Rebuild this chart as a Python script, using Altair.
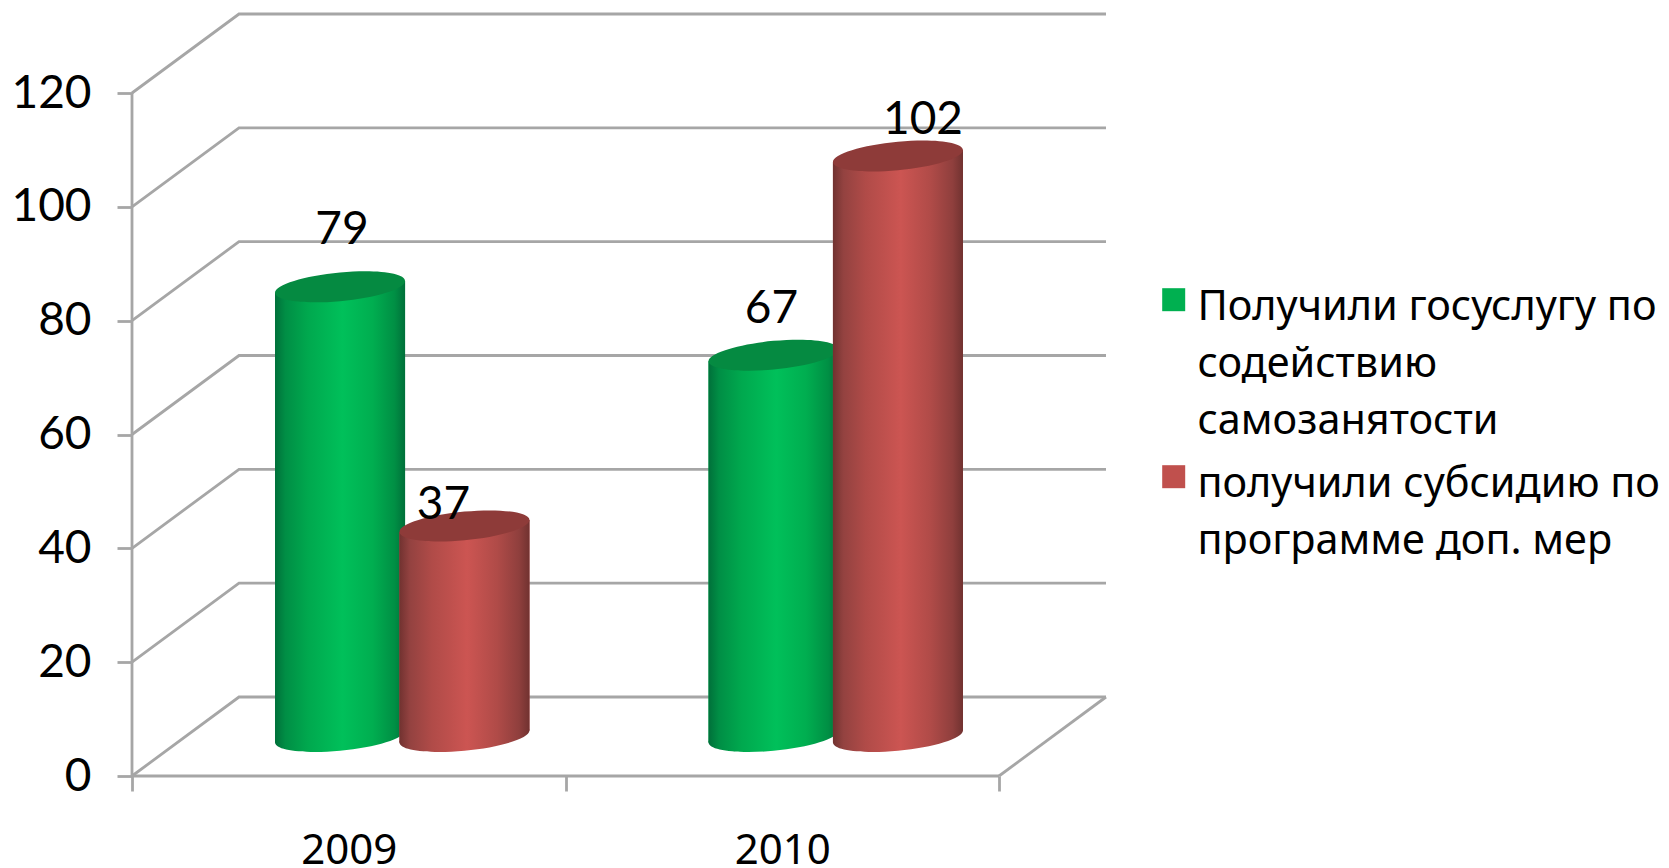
import altair as alt
import pandas as pd

years = ["2009", "2010"]
series = ["Получили госуслугу по\nсодействию\nсамозанятости",
          "получили субсидию по\nпрограмме доп. мер"]
green_values = [79, 67]
red_values = [37, 102]
levels = [0, 20, 40, 60, 80, 100, 120]
swatches = ["#00B050", "#C0504D"]

# 3-D projection of the chart box, in scale units
DX, DY = 0.2468, 13.88
YMAX = 120 + DY
XMAX = 2 + DX
BAR_OFF, BAR_HALF = 0.1435, 0.15
TILT = 1.05
GRID = "#A6A6A6"
FONT_NUM = "Lato"
FONT_TXT = "Noto Sans"


def cap_path(a=1.0, k=0.092, b=0.22):
    c = 0.5523
    def P(x, y):
        return f"{a*x:.4f},{-k*x + b*y:.4f}"
    return (f"M{P(1,0)}C{P(1,c)} {P(c,1)} {P(0,1)}C{P(-c,1)} {P(-1,c)} {P(-1,0)}"
            f"C{P(-1,-c)} {P(-c,-1)} {P(0,-1)}C{P(c,-1)} {P(1,-c)} {P(1,0)}Z")


def grad(stops):
    return alt.Gradient(gradient="linear", x1=0, x2=1, y1=0, y2=0,
                        stops=[alt.GradientStop(offset=o, color=c) for o, c in stops])


G_GREEN = grad([(0, "#00703A"), (0.08, "#008E45"), (0.25, "#00A84E"), (0.52, "#00C05A"),
                (0.75, "#00AE50"), (0.92, "#008F44"), (1, "#00703A")])
G_RED = grad([(0, "#713230"), (0.08, "#934240"), (0.25, "#B04B48"), (0.52, "#CC5552"),
              (0.75, "#B04B48"), (0.92, "#8F3F3D"), (1, "#713230")])

x_enc = alt.X("x:Q", scale=alt.Scale(domain=[0, XMAX], nice=False, zero=False),
              axis=alt.Axis(values=[0, 1, 2], title=None, domain=False, grid=False,
                            tickSize=15, tickWidth=2.8, tickColor=GRID,
                            labelExpr="['2009','2010',''][datum.value]",
                            labelOffset=216.75, labelPadding=39, labelFont=FONT_TXT,
                            labelFontSize=42, labelColor="#000000", labelOverlap=False,
                            labelFlush=False))
y_enc = alt.Y("y:Q", scale=alt.Scale(domain=[0, YMAX], nice=False, zero=False),
              axis=alt.Axis(values=levels, title=None, domain=False, grid=False,
                            tickSize=15, tickWidth=2.8, tickColor=GRID,
                            labelPadding=26, labelFont=FONT_NUM, labelFontSize=46,
                            labelColor="#000000", labelOverlap=False, labelFlush=False))

rows = []
for v in levels:
    rows += [dict(x=0, y=v, k=f"g{v}", o=0),
             dict(x=DX, y=v + DY, k=f"g{v}", o=1),
             dict(x=XMAX, y=v + DY, k=f"g{v}", o=2)]
rows += [dict(x=0, y=0, k="left", o=0), dict(x=0, y=120, k="left", o=1),
         dict(x=0, y=0, k="front", o=0), dict(x=2, y=0, k="front", o=1),
         dict(x=2, y=0, k="right", o=0), dict(x=XMAX, y=DY, k="right", o=1)]
grid_df = pd.DataFrame(rows)
grid = alt.Chart(grid_df).mark_line(color=GRID, strokeWidth=2.8).encode(
    x=x_enc, y=y_enc, detail="k:N", order="o:Q")

layers = [grid]
base_y = DY / 2
SWATCH = "M-1,0.13H1V2.13H-1Z"   # square hanging beside the first line of its label


def cyl(values, sign, name, gradient, cap):
    centers = [i + 0.5 + DX / 2 + sign * BAR_OFF for i in range(len(years))]
    df = pd.DataFrame({"x": centers, "v": values, "s": name})
    df["y"] = base_y
    df["top"] = df.v + base_y
    wall_rows = []
    for yr, c_x, v in zip(years, centers, values):
        wall_rows.append(dict(xw=c_x - BAR_HALF, yb=base_y - TILT, yt=v + base_y - TILT, yr=yr, s=name))
        wall_rows.append(dict(xw=c_x + BAR_HALF, yb=base_y + TILT, yt=v + base_y + TILT, yr=yr, s=name))
    wall = pd.DataFrame(wall_rows)
    c = alt.Chart(df)
    solid = alt.Chart(wall).mark_area(line=False, strokeWidth=0).encode(
        x=alt.X("xw:Q"), y=alt.Y("yb:Q"), y2="yt:Q", detail="yr:N",
        color=alt.Color("s:N", scale=alt.Scale(domain=series, range=swatches),
                        legend=alt.Legend(title=None, orient="none", legendX=1021, legendY=252,
                                          symbolType=SWATCH, symbolSize=529, symbolStrokeWidth=0,
                                          labelFont=FONT_TXT, labelFontSize=41.4, labelColor="#000000",
                                          labelLimit=600, labelOffset=3, labelBaseline="top",
                                          labelExpr="split(datum.label, '\\n')", rowPadding=0)))
    bottom = c.mark_point(shape=cap_path(), size=16900, filled=True, opacity=1, color=gradient,
                          strokeWidth=0).encode(x=alt.X("x:Q"), y=alt.Y("y:Q"))
    body = alt.Chart(wall).mark_area(color=gradient, line=False, strokeWidth=0).encode(
        x=alt.X("xw:Q"), y=alt.Y("yb:Q"), y2="yt:Q", detail="yr:N")
    top = c.mark_point(shape=cap_path(), size=16900, filled=True, opacity=1, color=cap,
                       strokeWidth=0).encode(x=alt.X("x:Q"), y=alt.Y("top:Q"))
    return [solid, bottom, body, top]


layers += cyl(green_values, -1, series[0], G_GREEN, "#058A41")
layers += cyl(red_values, 1, series[1], G_RED, "#8E3B39")

# data labels, each moved by hand as in the original
label_shift = {(0, 0): (2, -57), (0, 1): (-2, -46), (1, 0): (-21, -21), (1, 1): (25, -36)}
for si, vals in enumerate([green_values, red_values]):
    sign = -1 if si == 0 else 1
    for i, v in enumerate(vals):
        d = pd.DataFrame({"x": [i + 0.5 + DX / 2 + sign * BAR_OFF], "y": [v + base_y], "t": [str(v)]})
        dx, dy = label_shift[(si, i)]
        layers.append(alt.Chart(d).mark_text(font=FONT_NUM, fontSize=46, color="#000000", dx=dx, dy=dy,
                                             align="center", baseline="middle")
                      .encode(x=alt.X("x:Q"), y=alt.Y("y:Q"), text="t:N"))

chart = alt.layer(*layers).properties(
    width=974, height=762,
    padding={"left": 2, "top": 0, "right": 0, "bottom": 0},
    background="#FFFFFF",
).configure(style={"guide-label": {"lineHeight": 57}}).configure_view(stroke=None)

chart.save("out.html", embed_options={"renderer": "svg", "actions": False})
